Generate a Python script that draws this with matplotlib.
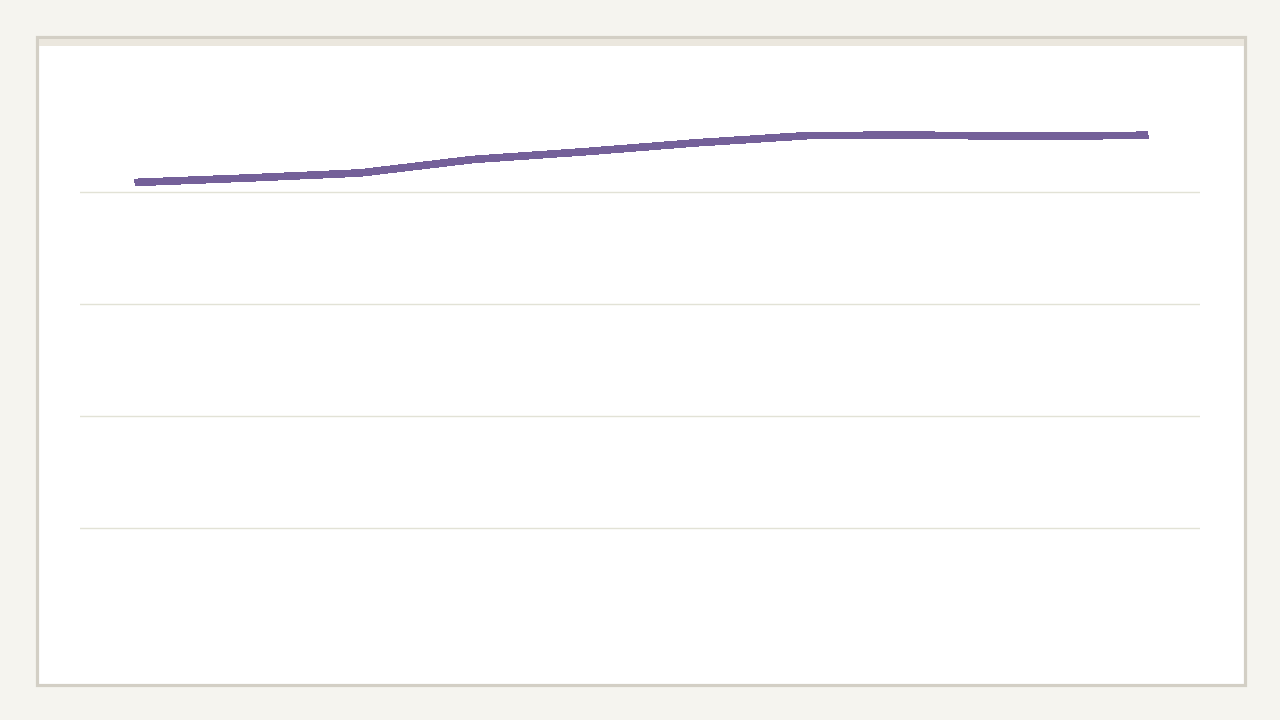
import matplotlib
matplotlib.use("Agg")
import matplotlib.pyplot as plt
from matplotlib.patches import Rectangle

# Data
categories = list(range(10))
values = [4.085, 4.125, 4.17, 4.29, 4.36, 4.44, 4.505, 4.507, 4.497, 4.507]
grid_values = [1, 2, 3, 4]

W, H = 1280, 720
fig = plt.figure(figsize=(12.8, 7.2), dpi=100, facecolor="#f5f4ef")

def fx(px):
    return px / W

def fy(py):
    return 1 - py / H

# Card
card = Rectangle((fx(36.8), fy(684.5)), fx(1244.5) - fx(36.8), fy(36.8) - fy(684.5),
                 transform=fig.transFigure, facecolor="white",
                 edgecolor="#d3cfc5", linewidth=2.3, zorder=0)
fig.patches.append(card)
band = Rectangle((fx(38.5), fy(46)), fx(1243.5) - fx(38.5), fy(38.5) - fy(46),
                 transform=fig.transFigure, facecolor="#ebe7de",
                 edgecolor="none", zorder=1)
fig.patches.append(band)

ax = fig.add_axes([fx(80), fy(640), fx(1200) - fx(80), fy(80) - fy(640)])
ax.set_zorder(5)
ax.set_facecolor("none")
ax.patch.set_visible(False)
ax.set_ylim(0, 5)
step = (1148 - 135) / 9
ax.set_xlim(-(135 - 80) / step, 9 + (1200 - 1148) / step)

for g in grid_values:
    ax.axhline(g, color="#e2e2d6", linewidth=1.0, zorder=1)

ax.plot(categories, values, color="#746099", linewidth=4.8,
        solid_capstyle="butt", solid_joinstyle="miter", antialiased=False, zorder=3)

for s in ax.spines.values():
    s.set_visible(False)
ax.set_xticks([])
ax.set_yticks([])

fig.savefig("out.png", dpi=100, facecolor=fig.get_facecolor())
